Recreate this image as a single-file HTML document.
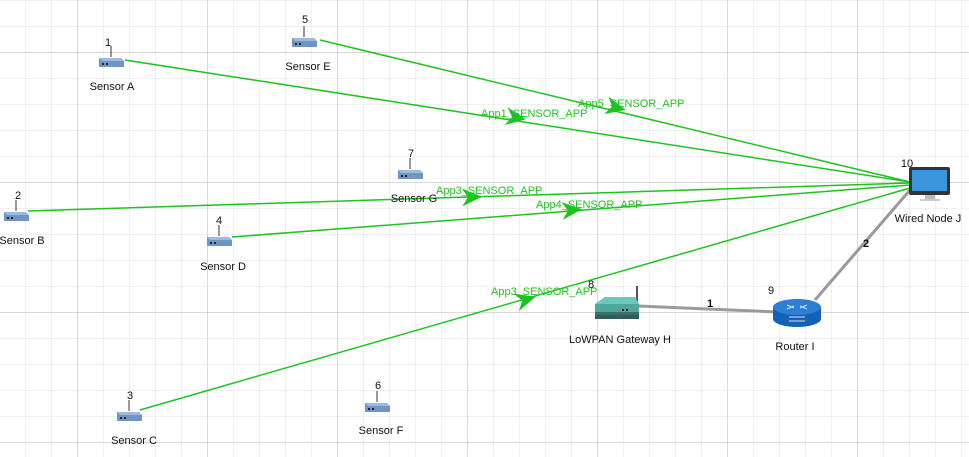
<!DOCTYPE html>
<html><head><meta charset="utf-8"><style>
body{margin:0;background:#fff}
svg{display:block;font-family:"Liberation Sans",sans-serif}
</style></head><body>
<svg width="969" height="457" viewBox="0 0 969 457">
<defs>
<pattern id="mn" width="26" height="26" patternUnits="userSpaceOnUse" x="25" y="0">
<path d="M0 0H26M0 0V26" stroke="#e0e0e0" stroke-width="1" fill="none"/></pattern>
<pattern id="mj" width="130" height="130" patternUnits="userSpaceOnUse" x="77" y="52">
<path d="M0 0H130M0 0V130" stroke="#b5b5b5" stroke-width="1" fill="none"/></pattern>
<g id="sen">
<line x1="0" y1="-5" x2="0" y2="-16" stroke="#555" stroke-width="1.2"/>
<path d="M-12 -4 L10 -4 L13 -1 L13 5 L-12 5 Z" fill="#6f95c2"/>
<path d="M-12 -4 L10 -4 L13 -1 L-9 -1 Z" fill="#9dbbe0"/>
<rect x="-9" y="1" width="2" height="2" fill="#223"/><rect x="-5" y="1" width="2" height="2" fill="#223"/>
</g>
<g id="arr"><path d="M-12 -9 L8 0 L-12 9 L-6 0 Z" fill="#1ec41e"/></g>
</defs>
<rect width="969" height="457" fill="url(#mn)"/>
<rect width="969" height="457" fill="url(#mj)"/>
<g stroke="#1ec41e" stroke-width="1.5">
<line x1="125" y1="60" x2="910" y2="182"/>
<line x1="320" y1="40" x2="910" y2="182"/>
<line x1="28" y1="211" x2="910" y2="183"/>
<line x1="232" y1="237" x2="910" y2="185"/>
<line x1="140" y1="410" x2="910" y2="188"/>
</g>
<g stroke="#9a9a9a" stroke-width="3">
<line x1="638" y1="306" x2="778" y2="312"/>
<line x1="815" y1="300" x2="910" y2="190"/>
</g>
<use href="#arr" transform="translate(518,118) rotate(8.8)"/>
<use href="#arr" transform="translate(618,108) rotate(13.5)"/>
<use href="#arr" transform="translate(474,197) rotate(-1.8)"/>
<use href="#arr" transform="translate(574,210) rotate(-4.4)"/>
<use href="#arr" transform="translate(528,299) rotate(-16)"/>
<g fill="#1ec41e" font-size="11">
<text x="481" y="117">App1_SENSOR_APP</text>
<text x="578" y="107">App5_SENSOR_APP</text>
<text x="436" y="194">App3_SENSOR_APP</text>
<text x="536" y="208">App4_SENSOR_APP</text>
<text x="491" y="295">App3_SENSOR_APP</text>
</g>
<use href="#sen" x="111" y="62"/>
<use href="#sen" x="304" y="42"/>
<use href="#sen" x="16" y="216"/>
<use href="#sen" x="219" y="241"/>
<use href="#sen" x="410" y="174"/>
<use href="#sen" x="129" y="416"/>
<use href="#sen" x="377" y="407"/>
<g transform="translate(617,310)">
<line x1="20" y1="-5" x2="20" y2="-24" stroke="#555" stroke-width="2"/>
<path d="M-22 -6 L-12 -13 L18 -13 L22 -6 L22 2 L-22 2 Z" fill="#4fa99a"/>
<path d="M-22 -6 L-12 -13 L18 -13 L22 -6 Z" fill="#6cc8b8"/>
<rect x="-22" y="2" width="44" height="3" fill="#3a6e66"/>
<rect x="-22" y="5" width="44" height="4" fill="#2f5e58"/>
<rect x="5" y="-1" width="2" height="2" fill="#111"/><rect x="9" y="-1" width="2" height="2" fill="#111"/>
</g>
<g transform="translate(797,313)">
<path d="M-24 -6 V6 A24 8 0 0 0 24 6 V-6 Z" fill="#1462b5"/>
<ellipse cx="0" cy="-6" rx="24" ry="8" fill="#2b7fd4"/>
<path d="M-10 -8 L-3 -5 M10 -8 L3 -5 M-10 -4 L-3 -7 M10 -4 L3 -7 M-8 4 H8 M-8 8 H8" stroke="#cfe3f7" stroke-width="1" fill="none"/>
</g>
<g transform="translate(930,180)">
<rect x="-21" y="-13" width="41" height="28" rx="2" fill="#333"/>
<rect x="-18" y="-10" width="35" height="21" fill="#3a95dd"/>
<rect x="-5" y="15" width="10" height="4" fill="#bbb"/>
<rect x="-10" y="19" width="20" height="2" fill="#ccc"/>
</g>
<g font-size="11" fill="#111" text-anchor="middle">
<text x="108" y="46">1</text><text x="112" y="90">Sensor A</text>
<text x="305" y="23">5</text><text x="308" y="70">Sensor E</text>
<text x="18" y="199">2</text><text x="22" y="244">Sensor B</text>
<text x="219" y="224">4</text><text x="223" y="270">Sensor D</text>
<text x="411" y="157">7</text><text x="414" y="202">Sensor G</text>
<text x="130" y="399">3</text><text x="134" y="444">Sensor C</text>
<text x="378" y="389">6</text><text x="381" y="434">Sensor F</text>
<text x="591" y="288">8</text><text x="620" y="343">LoWPAN Gateway H</text>
<text x="771" y="294">9</text><text x="795" y="350">Router I</text>
<text x="907" y="167">10</text><text x="928" y="222">Wired Node J</text>
<text x="710" y="307" font-weight="bold">1</text>
<text x="866" y="247" font-weight="bold">2</text>
</g>
</svg>
</body></html>
